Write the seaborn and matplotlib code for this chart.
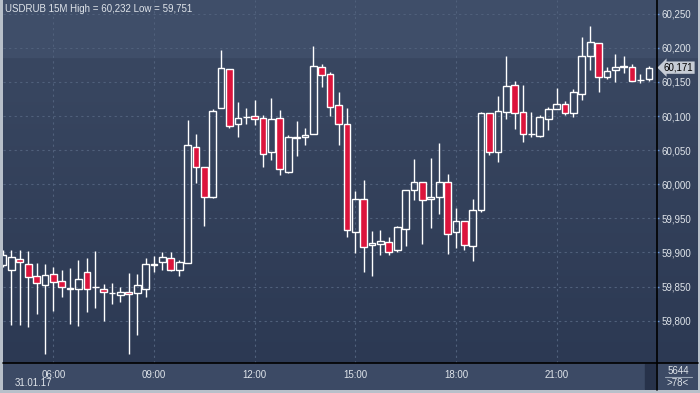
import numpy as np
import pandas as pd
import matplotlib
matplotlib.use("Agg")
import matplotlib.pyplot as plt
import matplotlib.transforms as mtransforms
from matplotlib.lines import Line2D
from matplotlib.patches import Rectangle
import seaborn as sns

# ---------------- data ----------------
opens = [59.882, 59.875, 59.890, 59.883, 59.865, 59.852, 59.868, 59.858, 59.847, 59.847,
         59.871, 59.849, 59.847, 59.840, 59.837, 59.842, 59.840, 59.847, 59.882, 59.886,
         59.892, 59.875, 59.885, 60.054, 60.025, 59.982, 60.112, 60.169, 60.088, 60.098,
         60.100, 60.097, 60.047, 60.097, 60.018, 60.068, 60.069, 60.073, 60.172, 60.161,
         60.116, 60.089, 59.930, 59.978, 59.911, 59.912, 59.915, 59.903, 59.935, 59.992,
         60.004, 59.978, 59.982, 60.003, 59.930, 59.946, 59.909, 59.962, 60.104, 60.047,
         60.106, 60.145, 60.106, 60.073, 60.071, 60.096, 60.111, 60.117, 60.104, 60.133,
         60.188, 60.207, 60.158, 60.167, 60.172, 60.172, 60.153, 60.155]
highs = [59.904, 59.904, 59.903, 59.902, 59.884, 59.883, 59.879, 59.874, 59.877, 59.889,
         59.892, 59.902, 59.854, 59.855, 59.849, 59.870, 59.868, 59.892, 59.895, 59.901,
         59.901, 59.889, 60.094, 60.074, 60.025, 60.110, 60.197, 60.169, 60.121, 60.112,
         60.124, 60.101, 60.127, 60.109, 60.072, 60.093, 60.083, 60.203, 60.176, 60.164,
         60.135, 60.112, 59.990, 60.006, 59.931, 59.933, 59.923, 59.939, 59.991, 60.037,
         60.004, 60.039, 60.061, 60.015, 59.965, 59.946, 59.978, 60.106, 60.104, 60.129,
         60.188, 60.151, 60.145, 60.106, 60.101, 60.113, 60.141, 60.122, 60.139, 60.216,
         60.232, 60.207, 60.172, 60.191, 60.188, 60.176, 60.161, 60.173]
lows = [59.878, 59.794, 59.794, 59.790, 59.810, 59.751, 59.814, 59.834, 59.795, 59.792,
        59.813, 59.819, 59.799, 59.825, 59.828, 59.751, 59.779, 59.835, 59.871, 59.874,
        59.873, 59.866, 59.885, 60.002, 59.939, 59.980, 60.112, 60.082, 60.070, 60.089,
        60.087, 60.026, 60.035, 60.013, 60.016, 60.042, 60.058, 60.073, 60.143, 60.100,
        60.058, 59.923, 59.899, 59.872, 59.866, 59.897, 59.897, 59.901, 59.910, 59.977,
        59.913, 59.936, 59.956, 59.898, 59.906, 59.904, 59.888, 59.960, 60.043, 60.032,
        60.095, 60.081, 60.062, 60.070, 60.070, 60.079, 60.110, 60.101, 60.099, 60.123,
        60.168, 60.136, 60.154, 60.150, 60.163, 60.151, 60.149, 60.152]
closes = [59.896, 59.893, 59.886, 59.864, 59.855, 59.867, 59.856, 59.850, 59.848, 59.861,
          59.847, 59.850, 59.842, 59.841, 59.842, 59.839, 59.852, 59.883, 59.883, 59.894,
          59.875, 59.886, 60.057, 60.025, 59.981, 60.108, 60.170, 60.086, 60.097, 60.099,
          60.095, 60.045, 60.095, 60.022, 60.070, 60.069, 60.072, 60.173, 60.160, 60.114,
          60.089, 59.933, 59.978, 59.908, 59.914, 59.917, 59.900, 59.937, 59.991, 60.003,
          59.977, 59.981, 60.003, 59.927, 59.946, 59.911, 59.962, 60.104, 60.047, 60.107,
          60.144, 60.104, 60.073, 60.074, 60.098, 60.110, 60.117, 60.104, 60.135, 60.188,
          60.208, 60.157, 60.166, 60.172, 60.173, 60.152, 60.153, 60.171]

time_tick_pos = [6, 18, 30, 42, 54, 66]
time_tick_labels = ["06:00", "09:00", "12:00", "15:00", "18:00", "21:00"]
price_ticks = [59.80, 59.85, 59.90, 59.95, 60.00, 60.05, 60.10, 60.15, 60.20, 60.25]
title_text = "USDRUB 15M High = 60,232 Low = 59,751"
date_text = "31.01.17"
corner_top = "5644"
corner_bottom = ">78<"

df = pd.DataFrame({"open": opens, "high": highs, "low": lows, "close": closes})
df["idx"] = np.arange(len(df))

# ---------------- style ----------------
sns.set_theme(style="dark")
plt.rcParams["font.family"] = ["Liberation Sans", "DejaVu Sans"]
TXT = "#dfe4ea"
RED = "#dc143c"
W, H = 700, 393

fig = plt.figure(figsize=(7, 3.93), dpi=100)
fig.patch.set_facecolor("#b8c0ca")


def px_axes(x0, y0, x1, y1, z=0):
    a = fig.add_axes([x0 / W, 1 - y1 / H, (x1 - x0) / W, (y1 - y0) / H], zorder=z)
    a.set_axis_off()
    return a


def gradient(n_px, band_px, c_band, c_top, c_bot):
    rows = []
    for p in range(n_px):
        if p < band_px:
            rows.append(c_band)
        else:
            t = (p - band_px) / max(1, n_px - band_px)
            rows.append([c_top[k] + (c_bot[k] - c_top[k]) * t for k in range(3)])
    return np.array(rows)[:, None, :] / 255.0


band = (63, 78, 105)
gtop = (57, 71, 97)
gbot = (44, 57, 83)

# right price panel
axr = px_axes(656, 0, 698, 363, z=0)
axr.imshow(gradient(363, 58, band, gtop, gbot), extent=[0, 1, 0, 1], aspect="auto",
           transform=axr.transAxes)
# bottom time panel
axb = px_axes(3, 363, 656, 390, z=0)
axb.set_facecolor("#3c4a65")
axb.add_patch(Rectangle((0, 0), 1, 1, transform=axb.transAxes, color="#3c4a65"))
axb.add_patch(Rectangle(((645 - 3) / 653, 1 / 27), 10 / 653, 25 / 27,
                        transform=axb.transAxes, color="#27324a"))
# corner panel
axc = px_axes(656, 363, 698, 390, z=0)
axc.add_patch(Rectangle((0, 0), 1, 1, transform=axc.transAxes, color="#3c4a65"))

# main chart
ax = fig.add_axes([3 / W, 1 - 363 / H, 653 / W, 363 / H], zorder=1)
ax.imshow(gradient(363, 58, band, gtop, gbot), extent=[0, 1, 0, 1], aspect="auto",
          transform=ax.transAxes, zorder=0)
for s in ax.spines.values():
    s.set_visible(False)

is_up = df["close"] >= df["open"]
body_lo = df[["open", "close"]].min(axis=1)
body_hi = df[["open", "close"]].max(axis=1)

ax.vlines(df["idx"], body_hi, df["high"], color="white", lw=1.0, zorder=3)
ax.vlines(df["idx"], df["low"], body_lo, color="white", lw=1.0, zorder=3)
ax.bar(df["idx"][is_up], (body_hi - body_lo)[is_up], bottom=body_lo[is_up], width=0.8,
       facecolor="none", edgecolor="white", linewidth=1.0, zorder=4)
ax.bar(df["idx"][~is_up], (body_hi - body_lo)[~is_up], bottom=body_lo[~is_up], width=0.8,
       facecolor=RED, edgecolor="white", linewidth=1.0, zorder=4)

ax.set_xlim(0.0, 77.85)
ax.set_ylim(59.7379, 60.2702)

ax.set_xticks(time_tick_pos)
ax.set_xticklabels(time_tick_labels)
ax.set_yticks(price_ticks)
ax.set_yticklabels([f"{v:.3f}".replace(".", ",") for v in price_ticks])
ax.yaxis.tick_right()
ax.tick_params(axis="y", length=2, width=1, color="#6a98dc", pad=2, labelsize=7,
               labelcolor=TXT)
ax.tick_params(axis="x", length=0, pad=5, labelsize=7, labelcolor=TXT)
ax.grid(True, color="#50607b", linestyle=(0, (2, 3)), linewidth=0.8)
ax.set_axisbelow(True)

# last price tag
trans = mtransforms.blended_transform_factory(ax.transAxes, ax.transData)
ax.text(1.012, closes[-1], f"{closes[-1]:.3f}".replace(".", ","), transform=trans,
        ha="left", va="center", fontsize=7, color="black", clip_on=False, zorder=6,
        bbox=dict(boxstyle="larrow,pad=0.12", fc="#c6ccd5", ec="none"))

# separator lines
fig.add_artist(Line2D([656.5 / W, 656.5 / W], [1 - 390 / H, 1], color="black", lw=1.2,
                      zorder=5))
fig.add_artist(Line2D([3 / W, 698 / W], [1 - 363 / H, 1 - 363 / H], color="black", lw=1.2,
                      zorder=5))

# texts
fig.text(5 / W, 1 - 9 / H, title_text, fontsize=7, color=TXT, ha="left", va="center",
         zorder=7)
fig.text(15 / W, 1 - 383 / H, date_text, fontsize=7, color=TXT, ha="left", va="center",
         zorder=7)
fig.text(678 / W, 1 - 371 / H, corner_top, fontsize=7, color=TXT, ha="center",
         va="center", zorder=7)
fig.add_artist(Line2D([665 / W, 692 / W], [1 - 377 / H, 1 - 377 / H], color="#9aa6b6",
                      lw=0.8, zorder=7))
fig.text(678 / W, 1 - 383 / H, corner_bottom, fontsize=7, color=TXT, ha="center",
         va="center", zorder=7)

fig.savefig("out.png", dpi=100, facecolor=fig.get_facecolor())
